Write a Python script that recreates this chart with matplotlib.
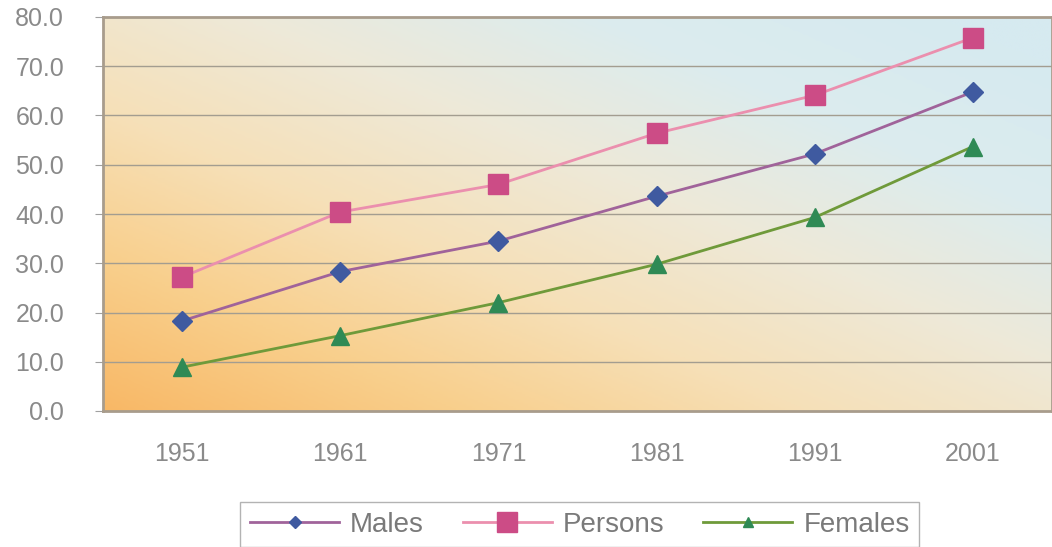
import numpy as np
import matplotlib.pyplot as plt
from matplotlib.colors import LinearSegmentedColormap

years = ['1951', '1961', '1971', '1981', '1991', '2001']
males = [18.3, 28.3, 34.5, 43.6, 52.2, 64.8]
persons = [27.2, 40.4, 46.0, 56.4, 64.1, 75.8]
females = [8.9, 15.3, 22.0, 29.8, 39.3, 53.7]
y_ticks = [0, 10, 20, 30, 40, 50, 60, 70, 80]

plt.rcParams['font.family'] = ['Liberation Sans', 'DejaVu Sans']

fig = plt.figure(figsize=(10.52, 5.47), dpi=100)
ax = fig.add_axes([103 / 1052, 1 - 411 / 547, 1 - 103 / 1052, (411 - 17) / 547])

# diagonal background: orange bottom-left -> cream -> pale blue top-right
cmap = LinearSegmentedColormap.from_list(
    'bg', ['#f8b866', '#f9cf8c', '#f6e0b8', '#eee9d8', '#dcecee', '#d6eaf0'])
u = np.linspace(0, 1, 300)
v = np.linspace(0, 1, 200)
U, V = np.meshgrid(u, v)
T = 0.62 * U + 0.6 * V
ax.imshow(T, cmap=cmap, extent=(-0.5, 5.5, 0, 80), origin='lower',
          aspect='auto', zorder=0, vmin=0, vmax=1.15, interpolation='bilinear')

x = np.arange(len(years))
for yv in y_ticks[1:-1]:
    ax.axhline(yv, color='#a39d90', lw=1.0, zorder=1)

ax.plot(x, males, color='#a0639a', lw=2, marker='D', ms=10,
        mfc='#3f5aa0', mec='#3f5aa0', label='Males', zorder=3)
ax.plot(x, persons, color='#eb8fae', lw=2, marker='s', ms=14,
        mfc='#cc4c86', mec='#cc4c86', label='Persons', zorder=3)
ax.plot(x, females, color='#6f9a3a', lw=2, marker='^', ms=13,
        mfc='#2f8a55', mec='#2f8a55', label='Females', zorder=3)

ax.set_xlim(-0.5, 5.5)
ax.set_ylim(0, 80)
ax.set_xticks(x)
ax.set_xticklabels(years)
ax.set_yticks(y_ticks)
ax.set_yticklabels([f'{t:.1f}' for t in y_ticks])
ax.tick_params(axis='y', length=6, color='#a0a0a0', pad=22,
               labelsize=18, labelcolor='#8a8a8a')
ax.tick_params(axis='x', length=0, pad=22, labelsize=18, labelcolor='#8a8a8a')
for s in ax.spines.values():
    s.set_color('#a89c8c')
    s.set_linewidth(2)

leg = fig.legend(loc='upper center', bbox_to_anchor=(0.5513, 0.108), ncol=3,
                 fontsize=20, frameon=True, fancybox=False, handlelength=3.2,
                 handletextpad=0.4, columnspacing=1.4, borderpad=0.35)
leg.get_frame().set_edgecolor('#a0a0a0')
for t in leg.get_texts():
    t.set_color('#7a7a7a')
for h, ms in zip(leg.legend_handles, [6, 15, 7]):
    h.set_markersize(ms)

fig.savefig('out.png', dpi=100)
